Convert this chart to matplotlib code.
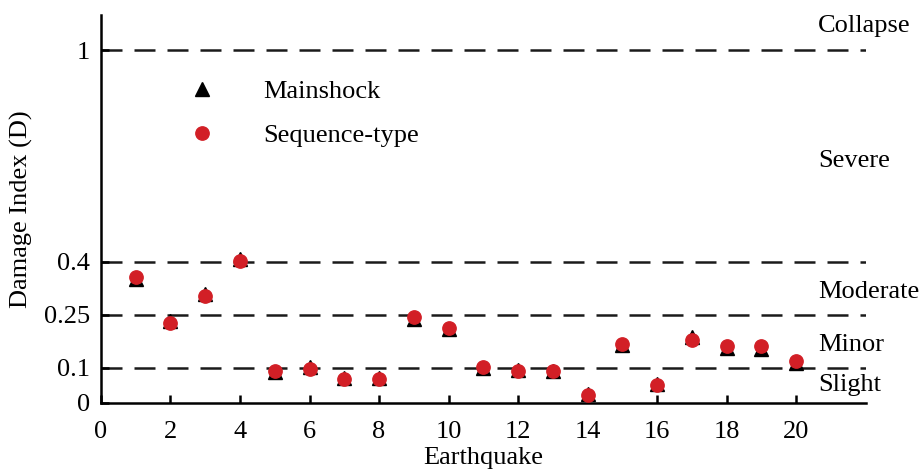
import numpy as np
import matplotlib
matplotlib.use("Agg")
import matplotlib.pyplot as plt

# Damage index per record: mainshock only vs. mainshock-aftershock sequence
earthquakes = np.arange(1, 21)
mainshock = [0.352, 0.232, 0.308, 0.408, 0.088, 0.102, 0.071, 0.071, 0.239, 0.210,
             0.100, 0.094, 0.090, 0.025, 0.164, 0.054, 0.187, 0.157, 0.153, 0.112]
sequence = [0.357, 0.226, 0.302, 0.402, 0.091, 0.097, 0.067, 0.067, 0.244, 0.214,
            0.102, 0.091, 0.091, 0.022, 0.168, 0.051, 0.178, 0.162, 0.162, 0.119]

# Damage state limits and the names of the bands between them
limits = [0.1, 0.25, 0.4, 1.0]
state_names = ["Slight", "Minor", "Moderate", "Severe", "Collapse"]
state_label_y = [0.051, 0.164, 0.316, 0.686, 1.068]

plt.rcParams["font.family"] = ["Liberation Serif", "DejaVu Serif"]
plt.rcParams["font.size"] = 19

fig = plt.figure(figsize=(9.22, 4.71), dpi=100)
ax = fig.add_axes([0.1095, 0.1444, 0.8295, 0.8236])

for lim in limits:
    ax.axhline(lim, color="#1a1a1a", lw=1.8, dashes=(8.4, 4.8), zorder=1)

ax.plot(earthquakes, mainshock, linestyle="none", marker="^", ms=10,
        color="black", label="Mainshock", zorder=3)
ax.plot(earthquakes, sequence, linestyle="none", marker="o", ms=9.6,
        color="#d21f26", label="Sequence-type", zorder=4)

for name, y in zip(state_names, state_label_y):
    ax.text(20.63, y, name, ha="left", va="center", clip_on=False)

ax.set_xlim(0, 22)
ax.set_ylim(0, 1.1)
ax.set_xticks(np.arange(0, 21, 2))
ax.set_yticks([0] + limits)
ax.set_yticklabels(["0", "0.1", "0.25", "0.4", "1"])
ax.tick_params(direction="in", length=6, width=1.8)
ax.tick_params(axis="x", pad=13)
ax.tick_params(axis="y", pad=8)
ax.set_xlabel("Earthquake", labelpad=3)
ax.set_ylabel("Damage Index (D)", labelpad=8)

for side in ["top", "right"]:
    ax.spines[side].set_visible(False)
for side in ["left", "bottom"]:
    ax.spines[side].set_linewidth(1.8)

ax.legend(loc="upper left", bbox_to_anchor=(0.081, 0.895), frameon=False,
          handletextpad=1.7, labelspacing=0.78, handlelength=1.2)

fig.savefig("out.png", dpi=100)
